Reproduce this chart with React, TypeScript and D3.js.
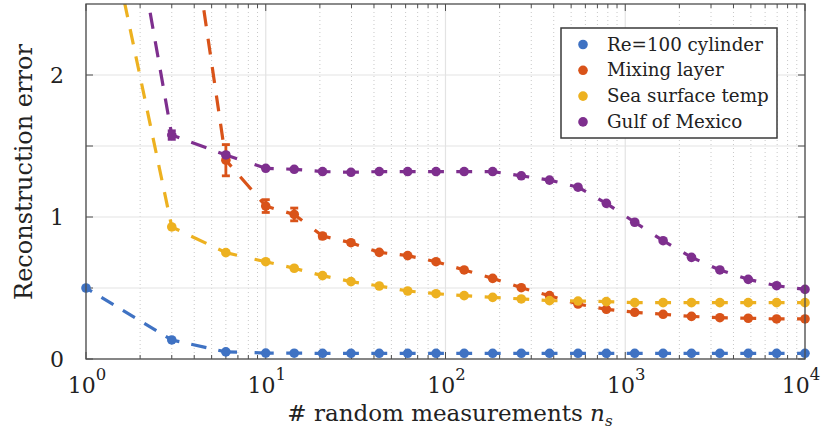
import React from 'react';
import * as d3 from 'd3';

// ---- data ----
const nsValues = [1, 3, 6, 10, 14.4, 20.7, 29.8, 42.8, 61.6, 88.6, 127, 183, 264, 379, 546, 785, 1129, 1624, 2336, 3360, 4833, 6952, 10000];
const cylinderErr = [0.5, 0.134, 0.05, 0.042, 0.041, 0.04, 0.04, 0.04, 0.04, 0.04, 0.04, 0.04, 0.04, 0.04, 0.04, 0.04, 0.04, 0.04, 0.04, 0.04, 0.04, 0.04, 0.04];
const mixingErr = [6.0, 4.0, 1.4, 1.077, 1.018, 0.866, 0.819, 0.751, 0.728, 0.685, 0.627, 0.568, 0.502, 0.446, 0.387, 0.35, 0.329, 0.315, 0.3, 0.291, 0.287, 0.282, 0.282];
const mixingStd = [0, 0, 0.11, 0.045, 0.045, 0.015, 0.01, 0, 0, 0, 0, 0, 0, 0, 0, 0, 0, 0, 0, 0, 0, 0, 0];
const seaTempErr = [3.8, 0.93, 0.749, 0.685, 0.639, 0.587, 0.545, 0.514, 0.479, 0.46, 0.446, 0.434, 0.423, 0.411, 0.408, 0.404, 0.397, 0.397, 0.397, 0.397, 0.397, 0.397, 0.397];
const gulfErr = [5.0, 1.577, 1.437, 1.343, 1.336, 1.32, 1.315, 1.32, 1.32, 1.32, 1.32, 1.32, 1.29, 1.26, 1.21, 1.096, 0.963, 0.833, 0.716, 0.627, 0.561, 0.516, 0.49];
const gulfStd = [0, 0.03, 0.01, 0, 0, 0, 0, 0, 0, 0, 0, 0, 0, 0, 0, 0, 0, 0, 0, 0, 0, 0, 0];

const seriesNames = ['Re=100 cylinder', 'Mixing layer', 'Sea surface temp', 'Gulf of Mexico'];
const seriesColors = ['#3F72C3', '#D95319', '#EDB120', '#7E2F8E'];
const seriesValues = [cylinderErr, mixingErr, seaTempErr, gulfErr];
const seriesStd = [null, mixingStd, null, gulfStd];

const yTickLabels = [0, 1, 2];
const yTickValues = [0, 0.5, 1, 1.5, 2];
const xDecadeExps = [0, 1, 2, 3, 4];

// ---- layout ----
const W = 821, H = 433;
const L = 86, R = 805, T = 4, B = 359;
const FONT = 'DejaVu Serif';

export default function App() {
  const x = d3.scaleLog().domain([1, 1e4]).range([L, R]);
  const y = d3.scaleLinear().domain([0, 2.5]).range([B, T]);

  const majorX = xDecadeExps.map((e) => Math.pow(10, e));
  const minorX: number[] = [];
  for (let e = 0; e < 4; e++) for (let k = 2; k <= 9; k++) minorX.push(k * Math.pow(10, e));

  const axisColor = '#4d4d4d';
  const tf = { fontFamily: FONT };

  const segs: any[] = [];
  seriesValues.forEach((vals, si) => {
    for (let i = 0; i < vals.length - 1; i++) {
      const x1 = x(nsValues[i]), y1 = y(vals[i]);
      const x2 = x(nsValues[i + 1]), y2 = y(vals[i + 1]);
      const len = Math.hypot(x2 - x1, y2 - y1);
      const n = Math.max(1, Math.round(len / 28.5));
      const p = len / n;
      const dash = p * 0.56, gap = p * 0.44;
      segs.push(
        <line key={`s${si}-${i}`} x1={x1} y1={y1} x2={x2} y2={y2}
          stroke={seriesColors[si]} strokeWidth={3.2}
          strokeDasharray={`${dash} ${gap}`} strokeDashoffset={dash / 2}
          clipPath="url(#plotclip)" />
      );
    }
  });

  const markers: any[] = [];
  seriesValues.forEach((vals, si) => {
    const std = seriesStd[si];
    vals.forEach((v, i) => {
      if (v > 2.5) return;
      const cx = x(nsValues[i]), cy = y(v);
      if (std && std[i] > 0) {
        const yt = y(v + std[i]), yb = y(v - std[i]);
        markers.push(
          <g key={`e${si}-${i}`} stroke={seriesColors[si]} strokeWidth={2.8}>
            <line x1={cx} x2={cx} y1={yt} y2={yb} />
            <line x1={cx - 4} x2={cx + 4} y1={yt} y2={yt} />
            <line x1={cx - 4} x2={cx + 4} y1={yb} y2={yb} />
          </g>
        );
      }
      markers.push(<circle key={`m${si}-${i}`} cx={cx} cy={cy} r={4.8} fill={seriesColors[si]} />);
    });
  });

  return (
    <svg width={W} height={H} style={{ position: 'absolute', left: 0, top: 0, display: 'block', background: '#fff' }}>
      <defs>
        <clipPath id="plotclip">
          <rect x={L} y={T} width={R - L} height={B - T} />
        </clipPath>
      </defs>
      <rect x={0} y={0} width={W} height={H} fill="#fff" />
      {minorX.map((v) => (
        <line key={`mg${v}`} x1={x(v)} x2={x(v)} y1={T} y2={B} stroke="#c8c8c8" strokeWidth={1} strokeDasharray="1 3" />
      ))}
      {majorX.map((v) => (
        <line key={`gx${v}`} x1={x(v)} x2={x(v)} y1={T} y2={B} stroke="#e3e3e3" strokeWidth={1.2} />
      ))}
      {yTickValues.map((v) => (
        <line key={`gy${v}`} x1={L} x2={R} y1={y(v)} y2={y(v)} stroke="#e3e3e3" strokeWidth={1.2} />
      ))}
      {minorX.map((v) => (
        <g key={`mt${v}`} stroke={axisColor} strokeWidth={1}>
          <line x1={x(v)} x2={x(v)} y1={B} y2={B - 4} />
          <line x1={x(v)} x2={x(v)} y1={T} y2={T + 4} />
        </g>
      ))}
      {majorX.map((v) => (
        <g key={`Mt${v}`} stroke={axisColor} strokeWidth={1}>
          <line x1={x(v)} x2={x(v)} y1={B} y2={B - 7} />
          <line x1={x(v)} x2={x(v)} y1={T} y2={T + 7} />
        </g>
      ))}
      {yTickValues.map((v) => (
        <g key={`yt${v}`} stroke={axisColor} strokeWidth={1}>
          <line x1={L} x2={L + 7} y1={y(v)} y2={y(v)} />
          <line x1={R} x2={R - 7} y1={y(v)} y2={y(v)} />
        </g>
      ))}
      {segs}
      {markers}
      <rect x={L} y={T} width={R - L} height={B - T} fill="none" stroke={axisColor} strokeWidth={1.3} />
      {yTickLabels.map((v) => (
        <text key={`yl${v}`} x={64} y={y(v) + 8} fontSize={22} textAnchor="end" fill="#222" style={tf}>{v}</text>
      ))}
      {xDecadeExps.map((e) => (
        <text key={`xl${e}`} x={x(Math.pow(10, e)) + (e === 4 ? -4 : 1)} y={393} fontSize={22} textAnchor="middle" fill="#222" style={tf}>
          10<tspan fontSize={16.5} dy={-13}>{e}</tspan>
        </text>
      ))}
      <text x={450} y={421} fontSize={23} textAnchor="middle" fill="#222" style={tf}>
        # random measurements <tspan fontStyle="italic">n</tspan><tspan fontStyle="italic" fontSize={15} dy={5}>s</tspan>
      </text>
      <text transform={`translate(32,172) rotate(-90)`} fontSize={24} textAnchor="middle" fill="#222" style={tf}>
        Reconstruction error
      </text>
      <rect x={561} y={28} width={216} height={110} fill="#fff" stroke="#3a3a3a" strokeWidth={1.5} />
      {seriesNames.map((name, i) => {
        const cy = 44.5 + i * 25.8;
        return (
          <g key={`lg${i}`}>
            <circle cx={583} cy={cy} r={4.8} fill={seriesColors[i]} />
            <text x={607} y={cy + 6} fontSize={18.3} fill="#222" style={tf}>{name}</text>
          </g>
        );
      })}
    </svg>
  );
}
